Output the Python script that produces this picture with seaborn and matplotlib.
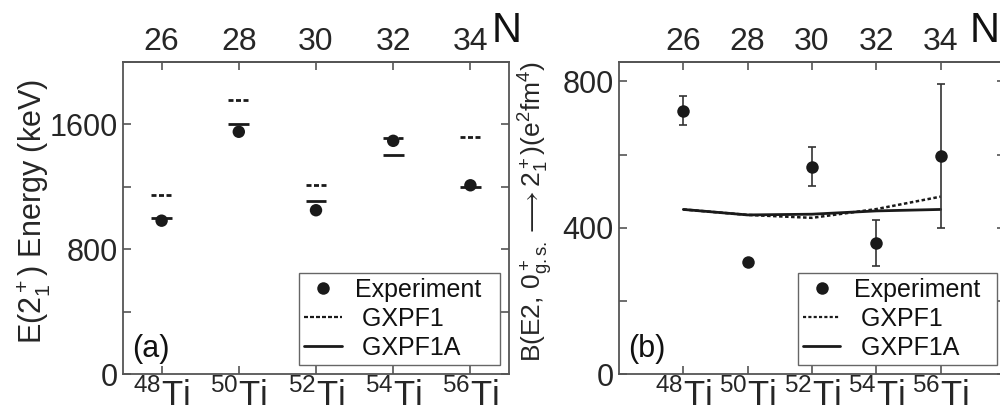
# Ti isotopes: E(2+) energies and B(E2) values vs shell model
import numpy as np
import pandas as pd
import matplotlib
matplotlib.use("AGG")
import matplotlib.pyplot as plt
import matplotlib.transforms as mtransforms
from matplotlib.lines import Line2D
from matplotlib.ticker import MultipleLocator
import seaborn as sns

isotopes = ['48', '50', '52', '54', '56']
neutrons = [26, 28, 30, 32, 34]

# (a) E(2+_1) in keV
e_exp = [983, 1553, 1050, 1495, 1210]
e_gxpf1 = [1150, 1757, 1213, 1515, 1517]
e_gxpf1a = [1000, 1605, 1110, 1401, 1200]

# (b) B(E2; 0+ -> 2+) in e^2 fm^4
be2_exp = [720, 307, 567, 357, 596]
be2_err = [40, 0, 53, 63, 198]
be2_gxpf1 = [450, 435, 427, 451, 485]
be2_gxpf1a = [450, 435, 437, 446, 450]

sns.set_theme(style='ticks')
plt.rcParams['font.family'] = ['Liberation Sans', 'DejaVu Sans']
plt.rcParams['mathtext.fontset'] = 'custom'
plt.rcParams['mathtext.rm'] = 'Liberation Sans'
plt.rcParams['mathtext.it'] = 'Liberation Sans:italic'
plt.rcParams['mathtext.default'] = 'regular'
plt.rcParams['text.color'] = '#111111'

df_a = pd.DataFrame({'N': neutrons, 'exp': e_exp, 'gxpf1': e_gxpf1, 'gxpf1a': e_gxpf1a})
df_b = pd.DataFrame({'N': neutrons, 'exp': be2_exp, 'err': be2_err,
                     'gxpf1': be2_gxpf1, 'gxpf1a': be2_gxpf1a})

dash_a = (0, (1.8, 0.9))
dot_b = (0, (1.4, 1.0))
spine_col = '#555555'

fig = plt.figure(figsize=(10, 4.11), dpi=100)
axa = fig.add_axes([0.123, 0.09, 0.386, 0.759])
axb = fig.add_axes([0.619, 0.09, 0.386, 0.759])

# panel (a): short horizontal bars for the calculations
hw = 0.27
axa.hlines(df_a['gxpf1'], df_a['N'] - hw, df_a['N'] + hw, colors='k', linestyles=dash_a, lw=2)
axa.hlines(df_a['gxpf1a'], df_a['N'] - hw, df_a['N'] + hw, colors='k', linestyles='solid', lw=2)
sns.scatterplot(data=df_a, x='N', y='exp', ax=axa, color='k', s=80, edgecolor='none',
                zorder=3, legend=False)
axa.set_xlim(25, 35)
axa.set_ylim(0, 2000)
axa.yaxis.set_major_locator(MultipleLocator(800))
axa.yaxis.set_minor_locator(MultipleLocator(400))

# panel (b)
sns.lineplot(data=df_b, x='N', y='gxpf1', ax=axb, color='k', lw=1.8, linestyle=dot_b)
sns.lineplot(data=df_b, x='N', y='gxpf1a', ax=axb, color='k', lw=2)
axb.errorbar(df_b['N'], df_b['exp'], yerr=df_b['err'], fmt='o', color='k', ms=9,
             mec='none', ecolor='#333333', elinewidth=1.2, capsize=3, capthick=1.2, zorder=3)
axb.set_xlim(24, 36)
axb.set_ylim(0, 853)
axb.yaxis.set_major_locator(MultipleLocator(400))
axb.yaxis.set_minor_locator(MultipleLocator(200))

axa.set_ylabel(r'E(2$^+_1$) Energy (keV)', fontsize=22)
axa.yaxis.set_label_coords(-0.183, 0.52)
axb.set_ylabel(r'B(E2, $0^+_{g.s.}\longrightarrow 2^+_1$)(e$^2$fm$^4$)', fontsize=19)
axb.yaxis.set_label_coords(-0.166, 0.52)

panels = [(axa, -14, '(a)', 0.956, (0.456, 0.029, 0.521, 0.3)),
          (axb, -2, '(b)', 0.909, (0.4637, 0.029, 0.5155, 0.3))]
for ax, shift, tag, nx, lbox in panels:
    ax.set_xlabel('')
    ax.set_xticks(neutrons)
    ax.set_xticklabels([f'$^{{{m}}}$Ti' for m in isotopes], fontsize=25)
    off = mtransforms.ScaledTranslation(shift / 100, 0, fig.dpi_scale_trans)
    for lab in ax.get_xticklabels():
        lab.set_transform(lab.get_transform() + off)
    ax.tick_params(axis='x', which='both', direction='in', length=6, width=1.2,
                   color=spine_col, pad=3, bottom=True, top=False)
    ax.tick_params(axis='y', which='both', direction='in', length=6, width=1.2,
                   color=spine_col, pad=4, left=True, right=True, labelsize=22)
    for s in ax.spines.values():
        s.set_color(spine_col)
        s.set_linewidth(1.3)
    sec = ax.secondary_xaxis('top')
    sec.set_xticks(neutrons)
    sec.set_xticklabels([str(n) for n in neutrons], fontsize=23)
    sec.tick_params(direction='in', length=6, width=1.2, color=spine_col, pad=4)
    sec.spines['top'].set_color(spine_col)
    sec.spines['top'].set_linewidth(1.3)
    ax.text(nx, 1.064, 'N', transform=ax.transAxes, fontsize=30, va='baseline', ha='left')
    ax.text(0.023, 0.054, tag, transform=ax.transAxes, fontsize=22, va='baseline', ha='left')

    ls_calc = dash_a if ax is axa else dot_b
    handles = [Line2D([], [], marker='o', ls='none', color='k', ms=9, mec='none'),
               Line2D([], [], ls=ls_calc, color='k', lw=1.6),
               Line2D([], [], ls='-', color='k', lw=2)]
    leg = ax.legend(handles, ['Experiment', ' GXPF1', ' GXPF1A'], loc='lower left',
                    bbox_to_anchor=lbox, mode='expand', borderaxespad=0, fontsize=18,
                    frameon=True, fancybox=False, framealpha=1, edgecolor='#666666',
                    handlelength=1.5, handletextpad=0.55, labelspacing=0.2, borderpad=0.2)
    leg.get_frame().set_linewidth(1.0)

plt.savefig('out.png', format='png', dpi=100)
